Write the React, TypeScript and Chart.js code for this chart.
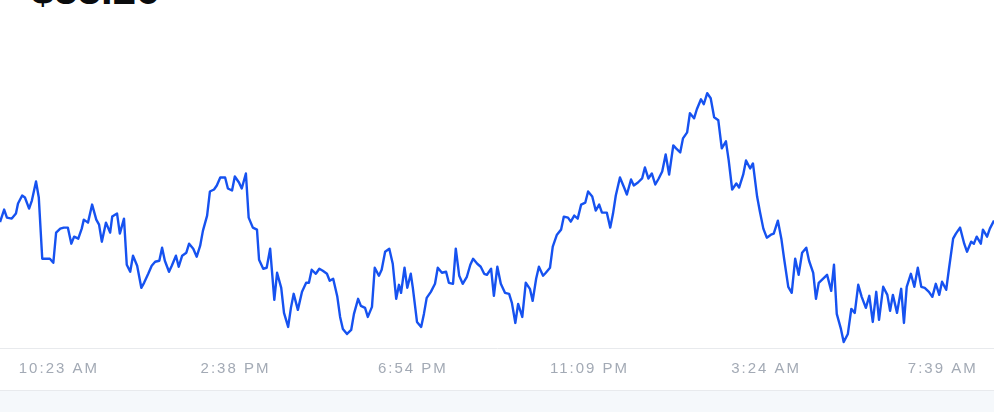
import React, { useEffect, useRef } from "react";
import { Chart, registerables } from "chart.js";

Chart.register(...registerables);

const headline = "$88.26";

// minutes elapsed since 8:58 AM
const minutes = [
  0, 6, 10, 17, 23, 26, 32, 36, 42, 46, 52, 56, 61, 68, 72, 77, 81, 87, 92, 98,
  103, 107, 113, 118, 121, 127, 133, 139, 143, 147, 153, 159, 162, 169, 173, 179, 183, 188, 192, 198,
  204, 208, 214, 219, 224, 230, 234, 238, 244, 248, 254, 258, 263, 269, 273, 279, 284, 289, 293, 299,
  303, 309, 313, 318, 325, 329, 335, 339, 345, 349, 355, 359, 365, 371, 374, 380, 385, 390, 396, 400,
  406, 410, 416, 420, 424, 430, 436, 442, 446, 450, 456, 461, 466, 472, 476, 481, 487, 491, 495, 501,
  507, 511, 517, 521, 527, 531, 537, 541, 547, 551, 556, 562, 567, 572, 576, 579, 584, 588, 593, 596,
  602, 608, 612, 616, 622, 628, 632, 638, 644, 648, 654, 658, 663, 668, 674, 679, 683, 689, 694, 699,
  703, 709, 713, 718, 723, 729, 735, 739, 744, 748, 754, 759, 765, 769, 774, 778, 784, 788, 794, 798,
  804, 810, 814, 820, 824, 829, 834, 839, 845, 849, 855, 860, 865, 869, 876, 881, 885, 889, 895, 901,
  905, 911, 915, 921, 927, 931, 936, 941, 946, 951, 956, 961, 966, 972, 976, 982, 986, 992, 996, 1002,
  1006, 1012, 1016, 1021, 1026, 1031, 1037, 1042, 1048, 1052, 1057, 1063, 1067, 1073, 1077, 1083, 1087, 1093, 1097, 1102,
  1107, 1113, 1117, 1123, 1128, 1132, 1138, 1143, 1148, 1153, 1158, 1164, 1168, 1174, 1178, 1182, 1188, 1194, 1200, 1204,
  1208, 1214, 1218, 1224, 1229, 1234, 1239, 1244, 1250, 1255, 1260, 1265, 1269, 1275, 1281, 1285, 1289, 1295, 1301, 1305,
  1309, 1315, 1320, 1325, 1330, 1335, 1341, 1346, 1351, 1356, 1360, 1366, 1370, 1376, 1380, 1386, 1392, 1396, 1402, 1406,
  1410, 1416, 1419, 1425, 1429, 1435,
];

const prices = [
  88.23, 88.48, 88.32, 88.30, 88.40, 88.60, 88.76, 88.72, 88.50, 88.66, 89.04, 88.72, 87.50, 87.50, 87.50, 87.42, 88.02, 88.10, 88.12, 88.12,
  87.80, 87.94, 87.90, 88.10, 88.28, 88.22, 88.58, 88.28, 88.18, 87.84, 88.22, 88.02, 88.34, 88.40, 88.00, 88.30, 87.38, 87.24, 87.56, 87.36,
  86.92, 87.02, 87.20, 87.36, 87.44, 87.46, 87.72, 87.46, 87.24, 87.36, 87.56, 87.34, 87.56, 87.62, 87.80, 87.70, 87.54, 87.76, 88.06, 88.36,
  88.84, 88.88, 88.96, 89.12, 89.12, 88.90, 88.86, 89.14, 89.02, 88.90, 89.20, 88.32, 88.12, 88.08, 87.48, 87.30, 87.32, 87.70, 86.68, 87.22,
  86.92, 86.42, 86.14, 86.52, 86.80, 86.48, 86.84, 87.02, 87.02, 87.28, 87.20, 87.30, 87.26, 87.20, 87.06, 87.10, 86.74, 86.34, 86.10, 86.00,
  86.08, 86.40, 86.70, 86.56, 86.52, 86.34, 86.54, 87.32, 87.16, 87.28, 87.64, 87.70, 87.40, 86.70, 86.98, 86.82, 87.32, 86.92, 87.20, 86.92,
  86.24, 86.14, 86.40, 86.72, 86.84, 87.00, 87.32, 87.22, 87.24, 87.02, 87.00, 87.70, 87.16, 87.00, 87.14, 87.38, 87.50, 87.40, 87.34, 87.20,
  87.18, 87.30, 86.76, 87.34, 87.00, 86.82, 86.80, 86.62, 86.22, 86.60, 86.34, 87.02, 86.90, 86.66, 87.10, 87.34, 87.16, 87.22, 87.32, 87.74,
  87.98, 88.08, 88.34, 88.32, 88.24, 88.36, 88.30, 88.58, 88.62, 88.84, 88.74, 88.46, 88.58, 88.42, 88.42, 88.12, 88.40, 88.76, 89.12, 88.92,
  88.78, 89.08, 88.96, 89.02, 89.10, 89.32, 89.10, 89.20, 88.98, 89.10, 89.24, 89.58, 89.18, 89.76, 89.70, 89.62, 89.90, 90.02, 90.40, 90.30,
  90.48, 90.68, 90.58, 90.80, 90.70, 90.32, 90.26, 89.70, 89.84, 89.46, 88.88, 89.00, 88.92, 89.18, 89.46, 89.30, 89.40, 88.74, 88.44, 88.10,
  87.92, 87.98, 88.00, 88.26, 87.90, 87.50, 86.94, 86.82, 87.50, 87.18, 87.62, 87.72, 87.46, 87.22, 86.70, 87.02, 87.10, 87.18, 86.86, 87.38,
  86.40, 86.10, 85.84, 86.00, 86.50, 86.42, 86.98, 86.74, 86.52, 86.76, 86.24, 86.84, 86.28, 86.94, 86.78, 86.46, 86.78, 86.42, 86.90, 86.22,
  86.94, 87.20, 86.94, 87.32, 86.94, 86.92, 86.84, 86.74, 87.00, 86.78, 87.04, 86.88, 87.30, 87.90, 88.00, 88.12, 87.80, 87.64, 87.84, 87.80,
  87.94, 87.80, 88.08, 87.94, 88.10, 88.26,
];

const tickMinutes = [85, 340, 596, 851, 1106, 1361];
const tickLabels = ["10:23 AM", "2:38 PM", "6:54 PM", "11:09 PM", "3:24 AM", "7:39 AM"];

const letterSpacingPlugin = {
  id: "tickLetterSpacing",
  beforeDraw(chart: any) {
    chart.ctx.letterSpacing = "2px";
  },
  afterDraw(chart: any) {
    chart.ctx.letterSpacing = "0px";
  },
};

export default function App() {
  const canvasRef = useRef<HTMLCanvasElement | null>(null);

  useEffect(() => {
    document.body.style.margin = "0";
    if (!canvasRef.current) return;
    const data = minutes.map((m, i) => ({ x: m, y: prices[i] }));
    const chart = new Chart(canvasRef.current, {
      type: "line",
      data: {
        datasets: [
          {
            data,
            borderColor: "#1652f0",
            borderWidth: 2.4,
            pointRadius: 0,
            pointHoverRadius: 0,
            tension: 0,
            fill: false,
            borderJoinStyle: "round",
          },
        ],
      },
      options: {
        animation: false,
        responsive: true,
        maintainAspectRatio: false,
        layout: { padding: { top: 20, bottom: 0, left: 0, right: 0 } },
        plugins: { legend: { display: false }, tooltip: { enabled: false } },
        scales: {
          x: {
            type: "linear",
            min: 0,
            max: 1435,
            grid: { display: false, drawTicks: false, tickLength: 0 },
            border: { display: true, color: "#e8eaed", width: 1 },
            afterBuildTicks: (scale: any) => {
              scale.ticks = tickMinutes.map((v) => ({ value: v }));
            },
            ticks: {
              autoSkip: false,
              maxRotation: 0,
              padding: 12,
              color: "#a3aab5",
              font: { family: "'Liberation Sans', Arial, sans-serif", size: 15 },
              callback: (value: any) => {
                const idx = tickMinutes.indexOf(Number(value));
                return idx >= 0 ? tickLabels[idx] : "";
              },
            },
          },
          y: {
            display: false,
            min: 85.72,
            max: 92.26,
          },
        },
      },
      plugins: [letterSpacingPlugin],
    });
    return () => chart.destroy();
  }, []);

  return (
    <div style={{ position: "relative", width: 994, height: 412, overflow: "hidden", background: "#ffffff" }}>
      <div
        style={{
          position: "absolute",
          left: 31,
          top: -31,
          fontFamily: "'Liberation Sans', Arial, sans-serif",
          fontWeight: 700,
          fontSize: 42,
          lineHeight: "42px",
          color: "#0a0b0d",
          whiteSpace: "nowrap",
        }}
      >
        {headline}
      </div>
      <div style={{ position: "relative", width: 994, height: 390 }}>
        <canvas ref={canvasRef} />
      </div>
      <div
        style={{
          width: 994,
          height: 21,
          background: "#f5f8fb",
          borderTop: "1px solid #e8eaed",
        }}
      />
    </div>
  );
}
